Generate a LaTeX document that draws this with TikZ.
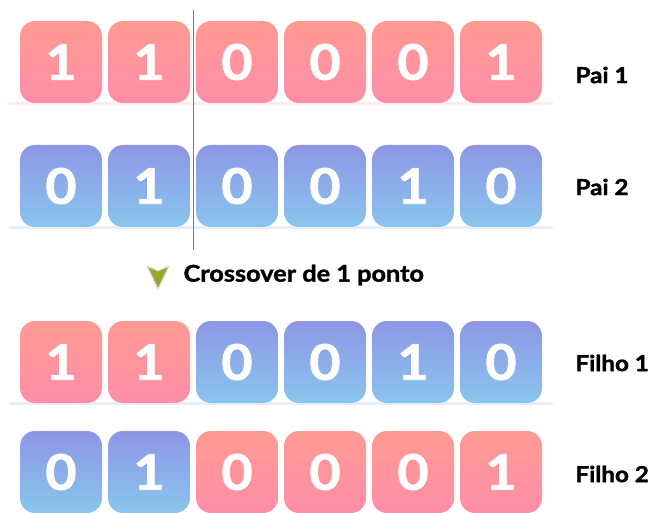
\documentclass[tikz,border=0pt]{standalone}
\usepackage{fontspec}
\setmainfont{Lato}[BoldFeatures={FakeBold=1.6, FakeStretch=1.1}]
\usepackage{tikz}
\usetikzlibrary{positioning, calc, backgrounds}
\definecolor{redtop}{RGB}{255,154,146}
\definecolor{redbot}{RGB}{255,142,168}
\definecolor{bluetop}{RGB}{142,150,230}
\definecolor{bluebot}{RGB}{136,198,236}
\definecolor{cutred}{RGB}{185,95,105}
\definecolor{olive}{RGB}{152,166,44}

\begin{document}
\begin{tikzpicture}[x=1pt, y=-1pt,
  bit/.style={rounded corners=15pt, minimum size=82pt, inner sep=0pt,
              text=white, font=\fontsize{49}{49}\selectfont\bfseries},
  redbit/.style={bit, top color=redtop, bottom color=redbot},
  bluebit/.style={bit, top color=bluetop, bottom color=bluebot},
  lbl/.style={anchor=west, font=\fontsize{22}{22}\selectfont\bfseries},
  glow/.style={line width=3pt, line cap=round, opacity=0.18},
]
\useasboundingbox (0,0) rectangle (656,513);

% Pais
\foreach \s/\b [count=\i] in {redbit/1,redbit/1,redbit/0,redbit/0,redbit/0,redbit/1}
  \node[\s] (pa\i) at ({61+88*(\i-1)},62) {\b};
\foreach \s/\b [count=\i] in {bluebit/0,bluebit/1,bluebit/0,bluebit/0,bluebit/1,bluebit/0}
  \node[\s] (pb\i) at ({61+88*(\i-1)},186) {\b};

% Filhos
\foreach \s/\b [count=\i] in {redbit/1,redbit/1,bluebit/0,bluebit/0,bluebit/1,bluebit/0}
  \node[\s] (fa\i) at ({61+88*(\i-1)},362) {\b};
\foreach \s/\b [count=\i] in {bluebit/0,bluebit/1,redbit/0,redbit/0,redbit/0,redbit/1}
  \node[\s] (fb\i) at ({61+88*(\i-1)},472) {\b};

% Glow under rows
\begin{scope}[on background layer]
\draw[glow, redbot] ($(pa1.south west)+(-10,0)$) -- ($(pa6.south east)+(10,0)$);
\draw[glow, bluetop] ($(pb1.south west)+(-10,0)$) -- ($(pb6.south east)+(10,0)$);
\draw[glow, bluetop] ($(fa1.south west)+(-10,0)$) -- ($(fa6.south east)+(10,0)$);
\end{scope}

% Labels
\node[lbl] (lpa) at (572,75) {Pai 1};
\node[lbl] (lpb) at (572,187) {Pai 2};
\node[lbl] (lfa) at (572,363) {Filho 1};
\node[lbl] (lfb) at (572,474) {Filho 2};

% Ponto de corte
\coordinate (cuttop) at ($(pa2.east)!0.5!(pa3.west) + (0,-52)$);
\coordinate (cutbot) at ($(pb2.east)!0.5!(pb3.west) + (0,64)$);
\draw[cutred, line width=0.8pt] (cuttop) -- (cutbot);

\node[lbl, font=\fontsize{23}{23}\selectfont\bfseries] (cross) at (180,275) {Crossover de 1 ponto};
\coordinate (tri) at ($(cross.west)+(-22,1)$);
\draw[olive, fill=olive, draw=black!15, line width=1pt, line join=round]
  ($(tri)+(-11,-10)$) -- ($(tri)+(0,-5)$) -- ($(tri)+(11,-10)$) -- ($(tri)+(0,13)$) -- cycle;
\end{tikzpicture}
\end{document}
